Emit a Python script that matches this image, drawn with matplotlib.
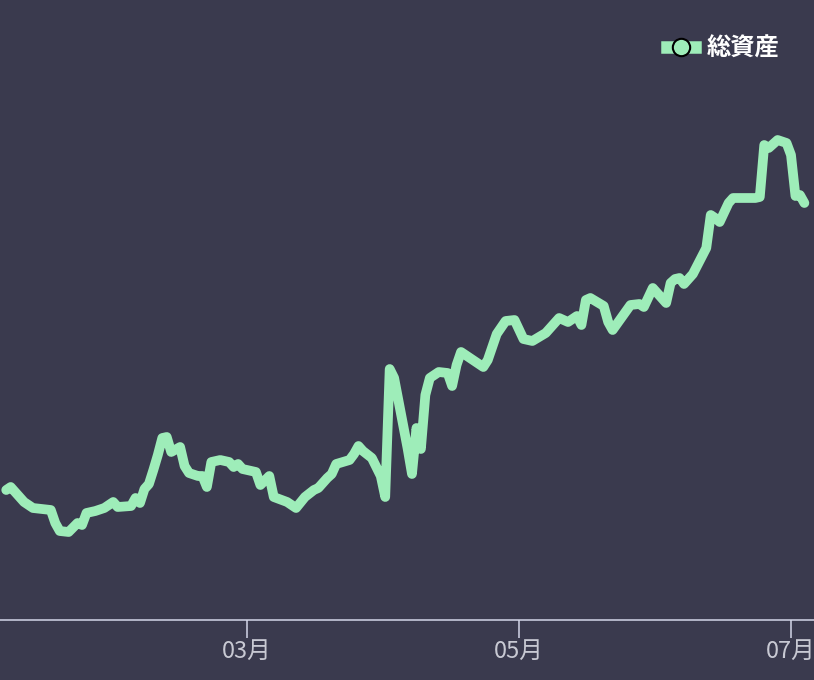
import matplotlib
matplotlib.use("Agg")
import matplotlib.pyplot as plt
import matplotlib.dates as mdates
from matplotlib.lines import Line2D
import pandas as pd

plt.rcParams["font.family"] = ["Noto Sans CJK JP", "DejaVu Sans"]

# daily total assets
dates = [
    "2023-01-06", "2023-01-07", "2023-01-10", "2023-01-12", "2023-01-16", "2023-01-17",
    "2023-01-18", "2023-01-20", "2023-01-22", "2023-01-23", "2023-01-24", "2023-01-26",
    "2023-01-28", "2023-01-30", "2023-01-31", "2023-02-03", "2023-02-04", "2023-02-05",
    "2023-02-06", "2023-02-07", "2023-02-08", "2023-02-09", "2023-02-10", "2023-02-11",
    "2023-02-12", "2023-02-14", "2023-02-15", "2023-02-16", "2023-02-18", "2023-02-19",
    "2023-02-20", "2023-02-21", "2023-02-23", "2023-02-25", "2023-02-26", "2023-02-27",
    "2023-02-28", "2023-03-03", "2023-03-04", "2023-03-06", "2023-03-07", "2023-03-10",
    "2023-03-12", "2023-03-14", "2023-03-16", "2023-03-17", "2023-03-19", "2023-03-20",
    "2023-03-21", "2023-03-24", "2023-03-25", "2023-03-26", "2023-03-27", "2023-03-29",
    "2023-03-31", "2023-04-01", "2023-04-02", "2023-04-03", "2023-04-06", "2023-04-07",
    "2023-04-08", "2023-04-09", "2023-04-10", "2023-04-11", "2023-04-13", "2023-04-15",
    "2023-04-16", "2023-04-17", "2023-04-18", "2023-04-20", "2023-04-23", "2023-04-24",
    "2023-04-26", "2023-04-28", "2023-04-30", "2023-05-02", "2023-05-04", "2023-05-07",
    "2023-05-10", "2023-05-12", "2023-05-14", "2023-05-15", "2023-05-16", "2023-05-17",
    "2023-05-20", "2023-05-21", "2023-05-22", "2023-05-26", "2023-05-28", "2023-05-29",
    "2023-05-31", "2023-06-03", "2023-06-04", "2023-06-05", "2023-06-06", "2023-06-07",
    "2023-06-09", "2023-06-12", "2023-06-13", "2023-06-14", "2023-06-15", "2023-06-17",
    "2023-06-18", "2023-06-23", "2023-06-24", "2023-06-25", "2023-06-26", "2023-06-28",
    "2023-06-30", "2023-07-01", "2023-07-02", "2023-07-03", "2023-07-04",
]
assets = [
    1300, 1330, 1180, 1120, 1100, 970,
    890, 880, 970, 950, 1070, 1090,
    1120, 1180, 1130, 1140, 1220, 1170,
    1310, 1360, 1500, 1650, 1820, 1830,
    1680, 1730, 1540, 1470, 1440, 1440,
    1330, 1580, 1600, 1580, 1530, 1560,
    1510, 1480, 1350, 1440, 1230, 1180,
    1120, 1230, 1300, 1320, 1420, 1460,
    1560, 1600, 1660, 1740, 1690, 1620,
    1440, 1230, 2510, 2420, 1720, 1460,
    1920, 1710, 2250, 2420, 2480, 2470,
    2340, 2550, 2680, 2620, 2530, 2600,
    2860, 2990, 3000, 2810, 2790, 2870,
    3020, 2980, 3040, 2950, 3200, 3220,
    3140, 2980, 2900, 3150, 3160, 3130,
    3320, 3170, 3370, 3410, 3420, 3360,
    3460, 3720, 4050, 4020, 3980, 4170,
    4220, 4220, 4230, 4750, 4720, 4800,
    4770, 4650, 4240, 4250, 4170,
]
tick_dates = ["2023-03-01", "2023-05-01", "2023-07-01"]
tick_labels = ["03月", "05月", "07月"]

bg = "#3a3a4e"
green = "#9eedb9"

x = pd.to_datetime(dates)

fig = plt.figure(figsize=(8.14, 6.80), dpi=100, facecolor=bg)
ax = fig.add_axes([0, 60 / 680, 1, 620 / 680])
ax.set_facecolor(bg)

ax.plot(x, assets, color=green, linewidth=7, solid_joinstyle="round",
        solid_capstyle="round", clip_on=False)

# x range: 4.459 px per day, 03月 tick at 247 px
mar1 = mdates.date2num(pd.Timestamp("2023-03-01"))
ax.set_xlim(mar1 - 247 / 4.459, mar1 + (814 - 247) / 4.459)
ax.set_ylim(0, 6200)

ax.set_xticks(pd.to_datetime(tick_dates))
ax.set_xticklabels(tick_labels)
ax.tick_params(axis="x", colors="#d3d6e8", labelcolor="#c8c9d3", length=13,
               width=1.1, labelsize=17, pad=1.5)
ax.set_yticks([])
for s in ["top", "left", "right"]:
    ax.spines[s].set_visible(False)
ax.spines["bottom"].set_color("#d3d6e8")
ax.spines["bottom"].set_linewidth(1.1)

handle = Line2D([], [], color=green, linewidth=9, marker="o", markersize=12.5,
                markerfacecolor=green, markeredgecolor="black", markeredgewidth=1.5)
leg = fig.legend([handle], ["総資産"], loc="center right",
                 bbox_to_anchor=(779 / 814, 1 - 49 / 680), frameon=False,
                 borderpad=0, borderaxespad=0, handlelength=1.15, handletextpad=0.45,
                 prop={"size": 17.5, "weight": "bold"})
for t in leg.get_texts():
    t.set_color("white")

fig.savefig("out.png", dpi=100, facecolor=bg)
